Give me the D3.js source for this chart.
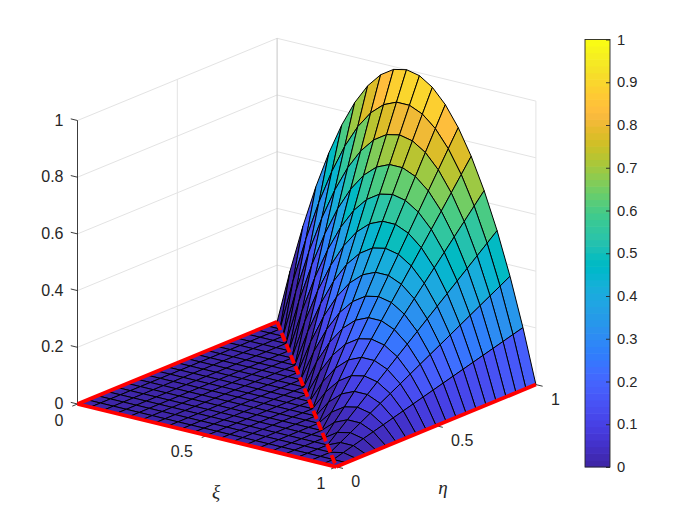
<!DOCTYPE html>
<html>
<head>
<meta charset="utf-8">
<style>
html,body{margin:0;padding:0;background:#fff;}
svg{display:block;}
text{font-family:"Liberation Sans",Arial,sans-serif;fill:#262626;}
</style>
<script src="https://cdnjs.cloudflare.com/ajax/libs/d3/7.8.5/d3.min.js"></script>
</head>
<body>
<svg id="chart" width="700" height="525"></svg>
<script>
const xiValues = [0,.05,.1,.15,.2,.25,.3,.35,.4,.45,.5,.55,.6,.65,.7,.75,.8,.85,.9,.95,1];
const etaValues = [0,.05,.1,.15,.2,.25,.3,.35,.4,.45,.5,.55,.6,.65,.7,.75,.8,.85,.9,.95,1];
// rows: eta, columns: xi
const zValues = [
[0,0,0,0,0,0,0,0,0,0,0,0,0,0,0,0,0,0,0,0,0],
[0,0,0,0,0,0,0,0,0,0,0,0,0,0,0,0,0,0,0,0,0],
[0,0,0,0,0,0,0,0,0,0,0,0,0,0,0,0,0,0,0,.01,0],
[0,0,0,0,0,0,0,0,0,0,0,0,0,0,0,0,0,0,.02,.02,0],
[0,0,0,0,0,0,0,0,0,0,0,0,0,0,0,0,0,.03,.04,.03,0],
[0,0,0,0,0,0,0,0,0,0,0,0,0,0,0,0,.04,.06,.06,.04,0],
[0,0,0,0,0,0,0,0,0,0,0,0,0,0,0,.05,.08,.09,.08,.05,0],
[0,0,0,0,0,0,0,0,0,0,0,0,0,0,.06,.10,.12,.12,.10,.06,0],
[0,0,0,0,0,0,0,0,0,0,0,0,0,.07,.12,.15,.16,.15,.12,.07,0],
[0,0,0,0,0,0,0,0,0,0,0,0,.08,.14,.18,.20,.20,.18,.14,.08,0],
[0,0,0,0,0,0,0,0,0,0,0,.09,.16,.21,.24,.25,.24,.21,.16,.09,0],
[0,0,0,0,0,0,0,0,0,0,.10,.18,.24,.28,.30,.30,.28,.24,.18,.10,0],
[0,0,0,0,0,0,0,0,0,.11,.20,.27,.32,.35,.36,.35,.32,.27,.20,.11,0],
[0,0,0,0,0,0,0,0,.12,.22,.30,.36,.40,.42,.42,.40,.36,.30,.22,.12,0],
[0,0,0,0,0,0,0,.13,.24,.33,.40,.45,.48,.49,.48,.45,.40,.33,.24,.13,0],
[0,0,0,0,0,0,.14,.26,.36,.44,.50,.54,.56,.56,.54,.50,.44,.36,.26,.14,0],
[0,0,0,0,0,.15,.28,.39,.48,.55,.60,.63,.64,.63,.60,.55,.48,.39,.28,.15,0],
[0,0,0,0,.16,.30,.42,.52,.60,.66,.70,.72,.72,.70,.66,.60,.52,.42,.30,.16,0],
[0,0,0,.17,.32,.45,.56,.65,.72,.77,.80,.81,.80,.77,.72,.65,.56,.45,.32,.17,0],
[0,0,.18,.34,.48,.60,.70,.78,.84,.88,.90,.90,.88,.84,.78,.70,.60,.48,.34,.18,0],
[0,.19,.36,.51,.64,.75,.84,.91,.96,.99,1,.99,.96,.91,.84,.75,.64,.51,.36,.19,0]
];
const parula = [
[.2422,.1504,.6603],[.2504,.1650,.7076],[.2578,.1818,.7511],[.2647,.1978,.7952],
[.2706,.2147,.8364],[.2751,.2342,.8710],[.2783,.2559,.8991],[.2803,.2782,.9221],
[.2813,.3006,.9414],[.2810,.3228,.9579],[.2795,.3447,.9717],[.2760,.3667,.9829],
[.2699,.3892,.9906],[.2602,.4123,.9952],[.2440,.4358,.9988],[.2206,.4603,.9973],
[.1963,.4847,.9892],[.1834,.5074,.9798],[.1786,.5289,.9682],[.1764,.5499,.9520],
[.1687,.5703,.9359],[.1540,.5902,.9218],[.1460,.6091,.9079],[.1380,.6276,.8973],
[.1248,.6459,.8883],[.1113,.6635,.8763],[.0952,.6798,.8598],[.0689,.6948,.8394],
[.0297,.7082,.8163],[.0036,.7203,.7917],[.0067,.7312,.7660],[.0433,.7411,.7394],
[.0964,.7500,.7120],[.1408,.7584,.6842],[.1717,.7670,.6554],[.1938,.7758,.6251],
[.2161,.7843,.5923],[.2470,.7918,.5567],[.2906,.7973,.5188],[.3406,.8008,.4789],
[.3909,.8029,.4354],[.4456,.8024,.3909],[.5044,.7993,.3480],[.5616,.7942,.3045],
[.6174,.7876,.2612],[.6720,.7793,.2227],[.7242,.7698,.1910],[.7738,.7598,.1646],
[.8203,.7498,.1535],[.8634,.7406,.1596],[.9035,.7330,.1774],[.9393,.7288,.2100],
[.9728,.7298,.2394],[.9956,.7434,.2371],[.9970,.7659,.2199],[.9952,.7893,.2028],
[.9892,.8136,.1885],[.9786,.8386,.1766],[.9676,.8639,.1643],[.9610,.8890,.1537],
[.9597,.9135,.1423],[.9628,.9373,.1265],[.9691,.9606,.1064],[.9769,.9839,.0805]
];
const axisTicks = [0,.5,1];
const axisTickLabels = ["0","0.5","1"];
const zTicks = [0,.2,.4,.6,.8,1];
const zTickLabels = ["0","0.2","0.4","0.6","0.8","1"];
const colorbarTicks = [0,.1,.2,.3,.4,.5,.6,.7,.8,.9,1];
const colorbarTickLabels = ["0","0.1","0.2","0.3","0.4","0.5","0.6","0.7","0.8","0.9","1"];
const redSolidEdges = [[[0,0],[1,0]],[[1,0],[1,1]],[[0,0],[0,1]]];
const redDashedEdges = [[[0,1],[1,0]]];

const svg = d3.select("#chart");
// orthographic projection as linear scales
const xOfXi = d3.scaleLinear().domain([0,1]).range([0,258.8]);
const xOfEta = d3.scaleLinear().domain([0,1]).range([0,199.6]);
const yOfXi = d3.scaleLinear().domain([0,1]).range([0,62.8]);
const yOfEta = d3.scaleLinear().domain([0,1]).range([0,-82.2]);
const yOfZ = d3.scaleLinear().domain([0,1]).range([0,-283.5]);
const ORIGIN = [77.5,404];
const project = (xi,eta,z=0)=>[
  ORIGIN[0]+xOfXi(xi)+xOfEta(eta),
  ORIGIN[1]+yOfXi(xi)+yOfEta(eta)+yOfZ(z)
];
const line = d3.line();
const rgb = c=>d3.rgb(c[0]*255,c[1]*255,c[2]*255).formatHex();
const colorOf = d3.scaleQuantize().domain([0,1]).range(parula.map(rgb));

// walls and grid
const grid = svg.append("g").attr("fill","none").attr("stroke","#e3e3e3").attr("stroke-width",1);
zTicks.forEach(z=>{
  grid.append("path").attr("d",line([project(0,0,z),project(0,1,z),project(1,1,z)]));
});
grid.append("path").attr("d",line([project(0,.5,0),project(0,.5,1)]));
grid.append("path").attr("d",line([project(.5,1,0),project(.5,1,1)]));
grid.append("path").attr("d",line([project(1,1,0),project(1,1,1)]));
grid.append("path").attr("stroke","#c6c6c6").attr("d",line([project(0,1,0),project(0,1,1)]));

// surface: far faces first
const faces = [];
etaValues.slice(0,-1).forEach((eta,j)=>{
  xiValues.slice(0,-1).forEach((xi,i)=>{
    faces.push({
      depth:199.6*xi-258.8*eta,
      color:colorOf(zValues[j][i]),
      pts:[
        project(xi,eta,zValues[j][i]),
        project(xiValues[i+1],eta,zValues[j][i+1]),
        project(xiValues[i+1],etaValues[j+1],zValues[j+1][i+1]),
        project(xi,etaValues[j+1],zValues[j+1][i])
      ]
    });
  });
});
faces.sort((a,b)=>a.depth-b.depth);
svg.append("g").selectAll("path").data(faces).join("path")
  .attr("d",d=>line(d.pts)+"Z")
  .attr("fill",d=>d.color)
  .attr("stroke","#000")
  .attr("stroke-width",1)
  .attr("stroke-linejoin","round");

// axis lines and ticks
const axes = svg.append("g").attr("fill","none").attr("stroke","#262626").attr("stroke-width",.9);
axes.append("path").attr("d",line([project(0,0,0),project(0,0,1)]));
const TICK = .026;
zTicks.forEach(z=>axes.append("path").attr("d",line([project(0,0,z),project(-TICK,0,z)])));
axisTicks.forEach(t=>{
  axes.append("path").attr("d",line([project(t,0,0),project(t,-TICK,0)]));
  axes.append("path").attr("d",line([project(1,t,0),project(1+TICK,t,0)]));
});

// red edges
const red = svg.append("g").attr("fill","none").attr("stroke","#ff0000").attr("stroke-width",3.8);
redSolidEdges.forEach(e=>red.append("path").attr("d",line(e.map(p=>project(p[0],p[1])))));
redDashedEdges.forEach(e=>red.append("path").attr("stroke-dasharray","9,3").attr("d",line(e.map(p=>project(p[0],p[1])))));

// tick labels
const labels = svg.append("g").attr("font-size",16);
zTicks.forEach((z,k)=>{
  const p = project(0,0,z);
  labels.append("text").attr("x",p[0]-14).attr("y",p[1]+5).attr("text-anchor","end").text(zTickLabels[k]);
});
axisTicks.forEach((t,k)=>{
  const p = project(t,0,0);
  labels.append("text").attr("x",p[0]-(t===1?11:14)).attr("y",p[1]+22).attr("text-anchor","end").text(axisTickLabels[k]);
  const q = project(1,t,0);
  labels.append("text").attr("x",q[0]+15).attr("y",q[1]+20).attr("text-anchor","start").text(axisTickLabels[k]);
});
svg.append("text").attr("x",216).attr("y",498).attr("text-anchor","middle")
  .attr("font-size",19).style("font-family","'Liberation Serif',serif").style("font-style","italic").text("ξ");
svg.append("text").attr("x",443).attr("y",494).attr("text-anchor","middle")
  .attr("font-size",19).style("font-family","'Liberation Serif',serif").style("font-style","italic").text("η");

// colorbar
const cbY = d3.scaleLinear().domain([0,1]).range([467,39.5]);
const cbX = 585, cbW = 25;
const cb = svg.append("g");
const bandOf = d3.scaleBand().domain(d3.range(parula.length)).range([467,39.5]);
cb.selectAll("rect").data(parula).join("rect")
  .attr("x",cbX).attr("width",cbW)
  .attr("y",(d,i)=>bandOf(i)-.3).attr("height",bandOf.bandwidth()+.6)
  .attr("fill",rgb);
cb.append("rect").attr("x",cbX).attr("y",39.5).attr("width",cbW).attr("height",427.5)
  .attr("fill","none").attr("stroke","#262626").attr("stroke-width",.9);
const cbAxis = d3.axisRight(cbY).tickValues(colorbarTicks)
  .tickFormat((d,i)=>colorbarTickLabels[i]).tickSizeInner(-4).tickSizeOuter(0).tickPadding(7);
const cbG = svg.append("g").attr("transform",`translate(${cbX+cbW},0)`).call(cbAxis);
cbG.select(".domain").remove();
cbG.selectAll("line").attr("stroke","#262626").attr("stroke-width",.9);
cbG.selectAll("text").attr("font-size",14.7).attr("font-family",null).attr("fill","#262626");
</script>
</body>
</html>
